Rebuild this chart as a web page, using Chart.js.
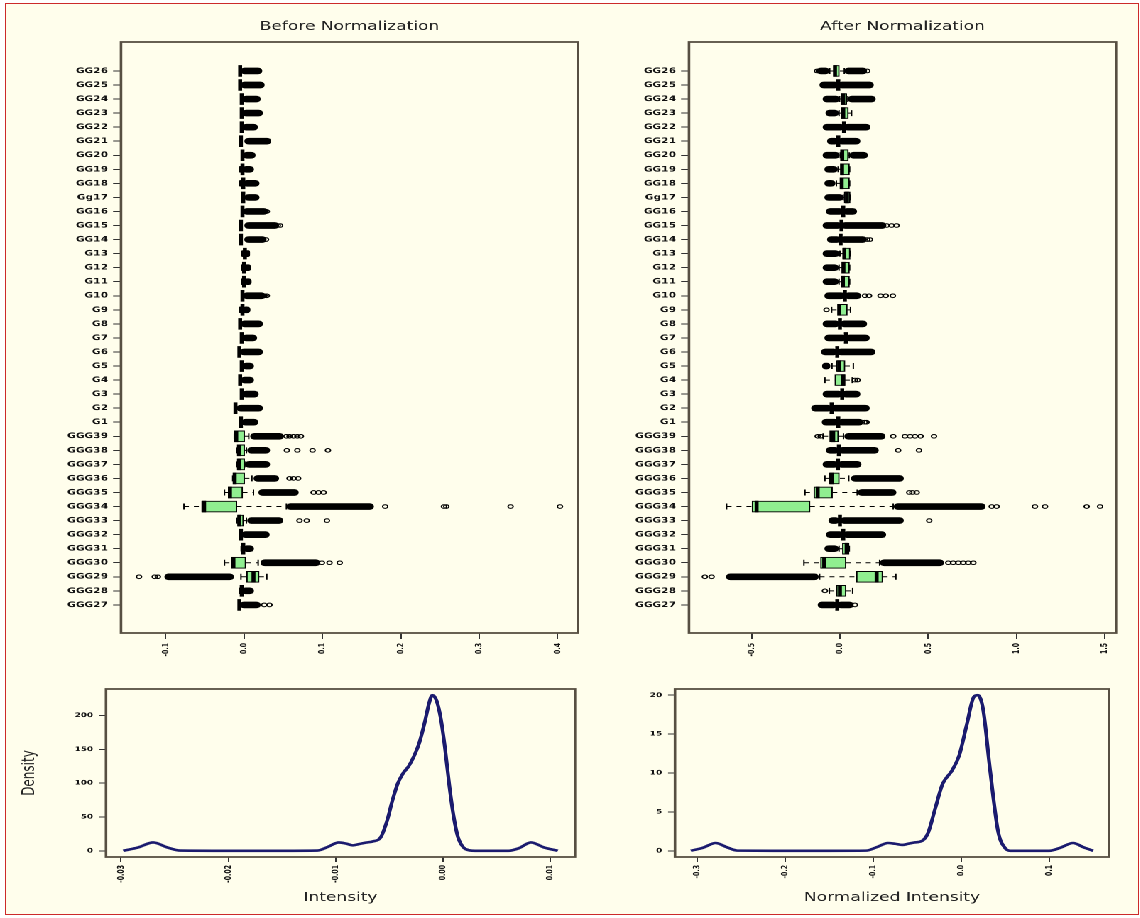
<!DOCTYPE html>
<html>
<head>
<meta charset="utf-8">
<script src="https://cdn.jsdelivr.net/npm/chart.js@4.4.1/dist/chart.umd.min.js"></script>
<style>
  html, body { margin: 0; padding: 0; background: #fff; }
  #page { position: relative; width: 1140px; height: 918px; overflow: hidden; background: #fff; }
  #sheet { position: absolute; left: 5px; top: 3px; width: 1134px; height: 912px; box-sizing: border-box;
           border: 1.5px solid #cc2a2a; background: #fffeec; }
  /* the source figure is stretched sideways, so draw narrow and scale up */
  #fig { position: absolute; left: 0; top: 0; width: 803px; height: 918px; transform: scaleX(1.42); transform-origin: 0 0; }
  #fig canvas { position: absolute; left: 0; top: 0; }
</style>
</head>
<body>
<div id="page">
  <div id="sheet"></div>
  <div id="fig">
    <canvas id="before" width="803" height="918" style="width:803px;height:918px"></canvas>
    <canvas id="after" width="803" height="918" style="width:803px;height:918px"></canvas>
    <canvas id="densBefore" width="803" height="918" style="width:803px;height:918px"></canvas>
    <canvas id="densAfter" width="803" height="918" style="width:803px;height:918px"></canvas>
  </div>
</div>
<script>
const N = null;

const groups = ['GG26','GG25','GG24','GG23','GG22','GG21','GG20','GG19','GG18','Gg17','GG16','GG15','GG14',
  'G13','G12','G11','G10','G9','G8','G7','G6','G5','G4','G3','G2','G1',
  'GGG39','GGG38','GGG37','GGG36','GGG35','GGG34','GGG33','GGG32','GGG31','GGG30','GGG29','GGG28','GGG27'];

// ---- Before Normalization ----
const beforeMedian = [-0.005,-0.005,-0.003,-0.003,-0.003,-0.004,-0.002,-0.002,-0.001,-0.001,-0.002,-0.004,-0.004,
  0.001,0.000,0.000,-0.002,-0.002,-0.005,-0.003,-0.006,-0.003,-0.005,-0.003,-0.011,-0.004,
  -0.010,-0.0065,-0.0065,-0.012,-0.018,-0.051,-0.006,-0.004,-0.001,-0.0136,0.012,-0.003,-0.006];
const beforeQ1 = [N,N,N,N,N,N,N,N,N,N,N,N,N, N,N,N,N,N,N,N,N,N,N,N,N,N,
  -0.0115,-0.008,-0.008,-0.0136,-0.020,-0.054,-0.008,N,N,-0.0158,0.0034,N,N];
const beforeQ3 = [N,N,N,N,N,N,N,N,N,N,N,N,N, N,N,N,N,N,N,N,N,N,N,N,N,N,
  0.0005,0.0005,0.0005,0.0005,-0.002,-0.0094,0.000,N,N,0.0021,0.019,N,N];
const beforeLowWhisker = [N,N,N,N,N,N,N,N,N,N,N,N,N, N,N,N,N,N,N,N,N,N,N,N,N,N,
  -0.0125,-0.009,-0.009,-0.0145,-0.025,-0.0767,-0.009,N,N,-0.025,-0.004,N,N];
const beforeHighWhisker = [N,N,N,N,N,N,N,N,N,N,N,N,N, N,N,N,N,N,N,N,N,N,N,N,N,N,
  0.006,0.003,0.001,0.010,0.012,0.054,0.003,N,N,0.018,0.029,N,N];
// dense runs of overlapping outliers: [from, to]
const beforeLowRun = [N,N,N,N,N,N,N,[-0.006,-0.002],[-0.006,-0.001],N,N,N,N,
  [-0.003,0.001],[-0.003,0],[-0.003,0],N,[-0.006,-0.002],N,N,N,N,N,N,N,N,
  N,N,N,N,N,N,N,N,[-0.004,-0.001],N,[-0.101,-0.0136],[-0.006,-0.003],N];
const beforeHighRun = [[-0.004,0.0226],[-0.004,0.0256],[-0.002,0.0205],[-0.002,0.0234],[-0.002,0.017],[0.001,0.034],
  [-0.001,0.014],[-0.002,0.012],[-0.001,0.019],[0,0.019],[-0.001,0.030],[0.001,0.044],[0,0.028],
  [0.001,0.007],[0,0.008],[0,0.009],[-0.001,0.027],[-0.002,0.0075],[-0.004,0.0234],[-0.002,0.016],
  [-0.005,0.0234],[-0.002,0.012],[-0.004,0.012],[-0.002,0.018],[-0.009,0.0234],[-0.003,0.0175],
  [0.0085,0.050],[0.0047,0.0325],[0.0017,0.0325],[0.0128,0.044],[0.019,0.069],[0.0546,0.165],
  [0.0047,0.0494],[-0.003,0.032],[-0.001,0.012],[0.0217,0.0963],N,[-0.003,0.012],[-0.005,0.0205]];
// single outliers: [group index, value]
const beforeOutliers = [[11,0.043],[11,0.046],[10,0.029],[12,0.028],[16,0.026],[16,0.029],
  [26,0.054],[26,0.058],[26,0.063],[26,0.068],[26,0.0725],
  [27,0.0546],[27,0.068],[27,0.0874],[27,0.107],
  [29,0.058],[29,0.063],[29,0.069],
  [30,0.0887],[30,0.095],[30,0.1015],
  [31,0.180],[31,0.255],[31,0.258],[31,0.340],[31,0.403],
  [32,0.0707],[32,0.080],[32,0.1057],
  [35,0.0993],[35,0.109],[35,0.122],
  [36,-0.134],[36,-0.114],[36,-0.110],
  [38,0.0256],[38,0.0324]];
const beforeTicks = [-0.1, 0.0, 0.1, 0.2, 0.3, 0.4];
const beforeTickLabels = ['-0.1','0.0','0.1','0.2','0.3','0.4'];

// ---- After Normalization ----
const afterMedian = [-0.028,-0.009,0.019,0.019,0.023,-0.009,0.013,0.012,0.010,0.040,0.019,0.009,0.004,
  0.025,0.020,0.017,0.028,-0.004,0.000,0.034,-0.015,-0.004,0.019,0.013,-0.047,-0.009,
  -0.038,-0.006,-0.011,-0.047,-0.126,-0.472,0.000,0.019,0.038,-0.089,0.208,0.000,-0.015];
const afterQ1 = [-0.034,N,0.006,0.009,N,N,0.006,0.009,0.006,0.025,N,N,N,
  0.019,0.015,0.011,N,-0.009,N,N,N,-0.019,-0.028,N,N,N,
  -0.057,N,N,-0.060,-0.147,-0.497,N,N,0.015,-0.109,0.094,-0.019,N];
const afterQ3 = [0.000,N,0.038,0.047,N,N,0.047,0.053,0.053,0.057,N,N,N,
  0.057,0.053,0.053,N,0.041,N,N,N,0.028,0.028,N,N,N,
  -0.009,N,N,0.000,-0.043,-0.170,N,N,0.051,0.034,0.242,0.034,N];
const afterLowWhisker = [-0.058,N,-0.002,-0.005,N,N,0.002,-0.010,-0.020,0.019,N,N,N,
  0.000,-0.005,-0.005,N,-0.047,N,N,N,-0.045,-0.085,N,N,N,
  -0.095,N,N,-0.085,-0.198,-0.642,N,N,-0.005,-0.204,-0.115,-0.060,N];
const afterHighWhisker = [0.025,N,0.045,0.066,N,N,0.053,0.055,0.055,0.060,N,N,N,
  0.060,0.055,0.055,N,0.060,N,N,N,0.076,0.070,N,N,N,
  0.020,N,N,0.050,0.098,0.302,N,N,0.053,0.225,0.317,0.072,N];
const afterLowRun = [[-0.129,-0.061],[-0.113,-0.009],[-0.095,-0.002],[-0.079,-0.009],[-0.095,0.023],[-0.070,-0.009],
  [-0.095,0.000],[-0.085,-0.015],[-0.085,-0.028],[-0.085,0.019],[-0.076,0.019],[-0.095,0.009],[-0.070,0.004],
  [-0.095,-0.005],[-0.095,-0.009],[-0.095,-0.009],[-0.085,0.028],N,[-0.095,0.000],[-0.085,0.034],
  [-0.104,-0.015],[-0.098,-0.057],N,[-0.095,0.013],[-0.160,-0.047],[-0.100,-0.009],
  N,[-0.076,-0.006],[-0.095,-0.011],N,N,N,[-0.062,0.000],[-0.076,0.019],[-0.085,-0.009],N,
  [-0.642,-0.123],N,[-0.123,-0.015]];
const afterHighRun = [[0.028,0.151],[-0.009,0.189],[0.047,0.200],N,[0.023,0.170],[-0.009,0.113],
  [0.057,0.155],N,N,N,[0.019,0.094],[0.009,0.260],[0.004,0.150],
  N,N,N,[0.028,0.117],N,[0.000,0.151],[0.034,0.166],[-0.015,0.198],N,N,[0.013,0.113],
  [-0.047,0.166],[-0.009,0.130],
  [0.028,0.255],[-0.006,0.217],[-0.011,0.119],[0.066,0.359],[0.104,0.317],[0.308,0.822],
  [0.000,0.359],[0.019,0.259],N,[0.230,0.586],N,N,[-0.015,0.075]];
const afterOutliers = [[0,-0.130],[0,-0.120],[0,0.155],
  [11,0.265],[11,0.293],[11,0.321],[12,0.155],[12,0.170],
  [16,0.142],[16,0.165],[16,0.230],[16,0.260],[16,0.300],
  [17,-0.076],[22,0.085],[22,0.100],[25,0.140],[25,0.151],
  [26,-0.126],[26,-0.109],[26,0.302],[26,0.368],[26,0.397],[26,0.425],[26,0.457],[26,0.533],
  [27,0.330],[27,0.448],[30,0.393],[30,0.410],[30,0.435],
  [31,0.860],[31,0.888],[31,1.105],[31,1.162],[31,1.398],[31,1.474],
  [32,0.506],[35,0.614],[35,0.642],[35,0.671],[35,0.699],[35,0.727],[35,0.756],
  [36,-0.765],[36,-0.727],[37,-0.085],[38,0.085]];
const afterTicks = [-0.5, 0.0, 0.5, 1.0, 1.5];
const afterTickLabels = ['-0.5','0.0','0.5','1.0','1.5'];

// ---- density curves ----
const densBeforeX = [-0.0298,-0.0284,-0.0270,-0.0257,-0.0245,-0.020,-0.015,-0.0117,-0.0107,-0.0097,-0.0090,
  -0.0084,-0.0078,-0.0072,-0.0065,-0.0058,-0.0052,-0.0047,-0.0042,-0.0037,-0.0032,-0.0027,-0.0022,
  -0.0017,-0.0013,-0.0010,-0.0006,-0.0002,0.0002,0.0006,0.0010,0.0014,0.0019,0.0025,0.0030,
  0.0061,0.0071,0.0082,0.0094,0.0107];
const densBeforeY = [0,5,12.4,5,0.3,0,0,0.3,6,12.4,10.5,
  8,10,12,14,20,45,75,100,115,125,140,160,
  190,218,230,222,195,150,95,50,20,5,0.5,0,
  0,4,12.4,5,0];
const densBeforeTicks = [-0.03,-0.02,-0.01,0.00,0.01];
const densBeforeTickLabels = ['-0.03','-0.02','-0.01','0.00','0.01'];
const densBeforeYTicks = [0,50,100,150,200];

const densAfterX = [-0.307,-0.293,-0.279,-0.266,-0.254,-0.200,-0.150,-0.108,-0.095,-0.083,-0.075,-0.067,
  -0.060,-0.054,-0.044,-0.0375,-0.029,-0.021,-0.0104,-0.002,0.006,0.0146,0.019,0.025,0.033,0.042,0.050,0.056,
  0.100,0.113,0.127,0.140,0.150];
const densAfterY = [0,0.4,1.0,0.45,0.02,0,0,0.02,0.5,1.0,0.9,0.75,
  0.9,1.05,1.3,2.3,5.6,8.6,10.3,12.3,16,19.8,20,18.2,10.3,2.5,0.35,0,
  0,0.4,1.0,0.4,0];
const densAfterTicks = [-0.3,-0.2,-0.1,0.0,0.1];
const densAfterTickLabels = ['-0.3','-0.2','-0.1','0.0','0.1'];
const densAfterYTicks = [0,5,10,15,20];

// ---- layout ----
const S = 1.42;          // sideways stretch of the source picture
const W = 803, H = 918;  // canvas size before stretching
const FONT = 'DejaVu Sans';
const tickFont = {family: FONT, size: 6.2, weight: 'bold'};

const frame = {
  id: 'frame',
  afterDatasetsDraw(chart) {
    const {ctx, chartArea: a} = chart;
    ctx.save();
    ctx.strokeStyle = '#574f42';
    ctx.lineWidth = 1.8;
    ctx.strokeRect(a.left, a.top, a.right - a.left, a.bottom - a.top);
    ctx.restore();
  }
};

const setTicks = values => scale => { scale.ticks = values.map(v => ({value: v})); };

function boxChart(id, o) {
  const boxes = [], runs = [], whisk = [], caps = [], meds = [], outs = [];
  groups.forEach((g, i) => {
    if (o.q1[i] !== null) {
      boxes.push({y: i, x: [o.q1[i], o.q3[i]]});
      whisk.push({x: o.lw[i], y: i}, {x: o.q1[i], y: i}, {x: null, y: null},
                 {x: o.q3[i], y: i}, {x: o.uw[i], y: i}, {x: null, y: null});
      caps.push({x: o.lw[i], y: i}, {x: o.uw[i], y: i});
    }
    if (o.low[i]) runs.push({y: i, x: o.low[i]});
    if (o.high[i]) runs.push({y: i, x: o.high[i]});
    meds.push({x: o.med[i], y: i});
  });
  o.outliers.forEach(([i, v]) => outs.push({x: v, y: i}));

  new Chart(document.getElementById(id), {
    type: 'bar',
    data: {
      datasets: [
        {type: 'scatter', data: outs, pointStyle: 'circle', pointRadius: 1.8, pointBorderWidth: 1,
         pointBorderColor: '#000', pointBackgroundColor: 'rgba(0,0,0,0)', order: 0},
        {type: 'scatter', data: meds, pointStyle: 'line', pointRotation: 90, pointRadius: 5.8,
         pointBorderWidth: 2.8, pointBorderColor: '#000', order: 1},
        {type: 'bar', data: boxes, backgroundColor: '#90ee90', borderColor: '#000', borderWidth: 1,
         borderSkipped: false, barThickness: 11, grouped: false, order: 2},
        {type: 'bar', data: runs, backgroundColor: '#000', borderWidth: 0, borderSkipped: false,
         borderRadius: 3, barThickness: 6, grouped: false, order: 3},
        {type: 'scatter', data: caps, pointStyle: 'line', pointRotation: 90, pointRadius: 3,
         pointBorderWidth: 1, pointBorderColor: '#000', order: 4},
        {type: 'scatter', data: whisk, showLine: true, borderColor: '#000', borderWidth: 1,
         borderDash: [3.5, 3.5], pointRadius: 0, order: 5}
      ]
    },
    options: {
      indexAxis: 'y',
      responsive: false,
      animation: false,
      devicePixelRatio: 2,
      events: [],
      layout: {padding: {left: 0, right: W - o.right / S, top: 0, bottom: H - 633 - 40}},
      scales: {
        x: {
          type: 'linear', min: o.xMin, max: o.xMax, offset: false,
          afterBuildTicks: setTicks(o.ticks),
          afterFit: s => { s.height = 40; },
          border: {display: false},
          grid: {drawOnChartArea: false, tickLength: 6, tickColor: '#333', offset: false},
          ticks: {autoSkip: false, minRotation: 90, maxRotation: 90, padding: 4, color: '#111',
                  font: tickFont, callback: (v, i) => o.tickLabels[i]}
        },
        y: {
          type: 'linear', reverse: true, min: -2.06, max: 40.0, offset: false,
          afterBuildTicks: setTicks(groups.map((g, i) => i)),
          afterFit: s => { s.width = o.left / S; },
          border: {display: false},
          grid: {drawOnChartArea: false, tickLength: 5.6, tickColor: '#333', offset: false},
          ticks: {autoSkip: false, padding: 3.5, color: '#111',
                  font: {family: FONT, size: 7.5, weight: 'bold'}, callback: v => groups[v]}
        }
      },
      plugins: {
        legend: {display: false},
        tooltip: {enabled: false},
        title: {display: true, text: o.title, fullSize: false, color: '#222',
                font: {family: FONT, size: 12, weight: 'normal'}, padding: {top: 19.8, bottom: 7.8}}
      }
    },
    plugins: [frame]
  });
}

function densityChart(id, o) {
  new Chart(document.getElementById(id), {
    type: 'scatter',
    data: {
      datasets: [{data: o.x.map((x, i) => ({x: x, y: o.y[i]})), showLine: true, borderColor: '#1b1b6e',
                  borderWidth: 2.6, pointRadius: 0, cubicInterpolationMode: 'monotone'}]
    },
    options: {
      responsive: false,
      animation: false,
      devicePixelRatio: 2,
      events: [],
      layout: {padding: {left: 0, right: W - o.right / S, top: 689, bottom: H - 857 - 48.2}},
      scales: {
        x: {
          type: 'linear', min: o.xMin, max: o.xMax,
          afterBuildTicks: setTicks(o.ticks),
          afterFit: s => { s.height = 48.2; },
          border: {display: false},
          grid: {drawOnChartArea: false, tickLength: 5, tickColor: '#333'},
          ticks: {autoSkip: false, minRotation: 90, maxRotation: 90, padding: 3, color: '#111',
                  font: tickFont, callback: (v, i) => o.tickLabels[i]},
          title: {display: true, text: o.xTitle, color: '#222', font: {family: FONT, size: 12},
                  padding: {top: 0, bottom: 0}}
        },
        y: {
          type: 'linear', min: o.yMin, max: o.yMax,
          afterBuildTicks: setTicks(o.yTicks),
          afterFit: s => { s.width = o.left / S; },
          border: {display: false},
          grid: {drawOnChartArea: false, tickLength: 4.9, tickColor: '#333'},
          ticks: {autoSkip: false, padding: 4.2, color: '#111', font: tickFont, callback: v => String(v)},
          title: {display: !!o.yTitle, text: o.yTitle || '', color: '#222', font: {family: FONT, size: 12},
                  padding: {top: 13.9, bottom: 0}}
        }
      },
      plugins: {legend: {display: false}, tooltip: {enabled: false}}
    },
    plugins: [frame]
  });
}

boxChart('before', {
  title: 'Before Normalization', left: 121, right: 578, xMin: -0.157, xMax: 0.426,
  ticks: beforeTicks, tickLabels: beforeTickLabels,
  med: beforeMedian, q1: beforeQ1, q3: beforeQ3, lw: beforeLowWhisker, uw: beforeHighWhisker,
  low: beforeLowRun, high: beforeHighRun, outliers: beforeOutliers
});
boxChart('after', {
  title: 'After Normalization', left: 689, right: 1116, xMin: -0.855, xMax: 1.564,
  ticks: afterTicks, tickLabels: afterTickLabels,
  med: afterMedian, q1: afterQ1, q3: afterQ3, lw: afterLowWhisker, uw: afterHighWhisker,
  low: afterLowRun, high: afterHighRun, outliers: afterOutliers
});
densityChart('densBefore', {
  x: densBeforeX, y: densBeforeY, left: 106, right: 575, xMin: -0.0314, xMax: 0.0123,
  yMin: -9.2, yMax: 239.2, ticks: densBeforeTicks, tickLabels: densBeforeTickLabels,
  yTicks: densBeforeYTicks, xTitle: 'Intensity', yTitle: 'Density'
});
densityChart('densAfter', {
  x: densAfterX, y: densAfterY, left: 675, right: 1109, xMin: -0.325, xMax: 0.168,
  yMin: -0.8, yMax: 20.8, ticks: densAfterTicks, tickLabels: densAfterTickLabels,
  yTicks: densAfterYTicks, xTitle: 'Normalized Intensity'
});
</script>
</body>
</html>
